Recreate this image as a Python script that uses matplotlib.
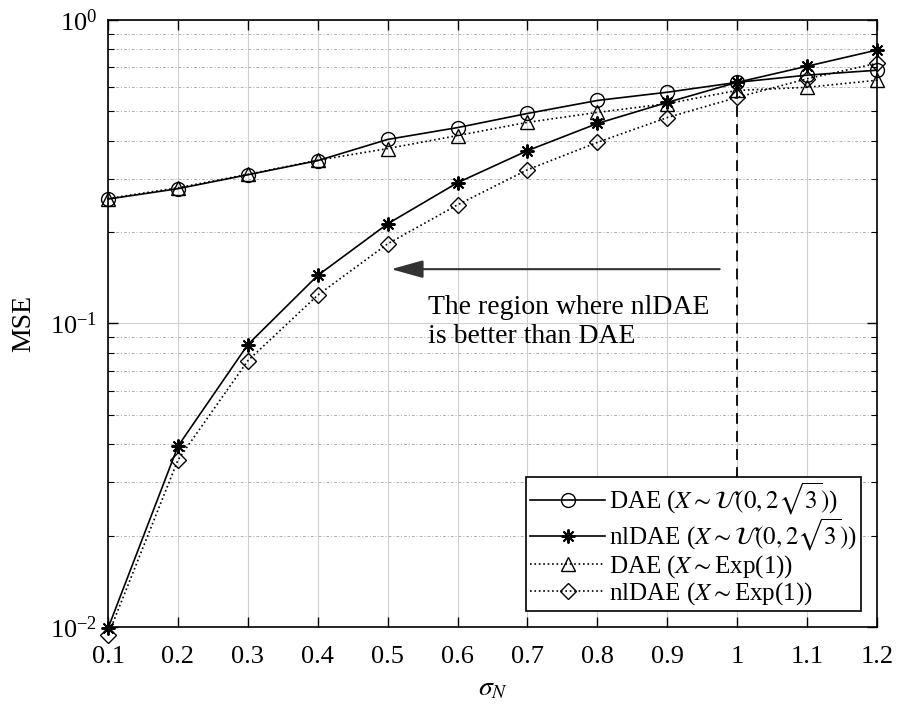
import matplotlib
matplotlib.use("Agg")
import matplotlib.pyplot as plt
from matplotlib.ticker import NullFormatter

plt.rcParams['font.family'] = ['Liberation Serif', 'DejaVu Serif']
plt.rcParams['mathtext.fontset'] = 'stix'

sigma = [0.1, 0.2, 0.3, 0.4, 0.5, 0.6, 0.7, 0.8, 0.9, 1.0, 1.1, 1.2]
dae_unif = [0.257, 0.278, 0.309, 0.344, 0.404, 0.442, 0.492, 0.543, 0.578, 0.623, 0.658, 0.683]
nldae_unif = [0.0099, 0.0394, 0.0852, 0.144, 0.213, 0.291, 0.371, 0.456, 0.535, 0.623, 0.704, 0.796]
dae_exp = [0.258, 0.280, 0.310, 0.345, 0.377, 0.416, 0.460, 0.496, 0.530, 0.586, 0.600, 0.633]
nldae_exp = [0.0094, 0.0355, 0.0754, 0.124, 0.183, 0.246, 0.321, 0.395, 0.477, 0.556, 0.640, 0.720]
xtick_labels = ['0.1', '0.2', '0.3', '0.4', '0.5', '0.6', '0.7', '0.8', '0.9', '1', '1.1', '1.2']

fig = plt.figure(figsize=(8.98, 7.08), dpi=100)
ax = fig.add_axes([0.1203, 0.1144, 0.8563, 0.8574])

ax.set_yscale('log')
ax.set_xlim(0.1, 1.2)
ax.set_ylim(1e-2, 1e0)

ax.set_xticks(sigma)
ax.set_xticklabels(xtick_labels)
ax.grid(True, which='major', axis='both', color='#d0d0d0', linestyle='-', linewidth=0.8)
ax.grid(True, which='minor', axis='y', color='#b0b0b0', linestyle=(0, (3, 2, 1, 2)), linewidth=0.7)
ax.yaxis.set_minor_formatter(NullFormatter())
ax.set_axisbelow(True)

ms = 10
ax.plot(sigma, dae_unif, color='black', linestyle='-', linewidth=1.2, marker='o',
        markersize=ms, markerfacecolor='none', markeredgecolor='black', clip_on=False,
        label=r'DAE ($X \sim \mathcal{U}(0, 2\sqrt{3})$)')
ax.plot(sigma, nldae_unif, color='black', linestyle='-', linewidth=1.2, marker=(8, 2, 0),
        markersize=ms, markeredgewidth=1.4, markeredgecolor='black', clip_on=False,
        label=r'nlDAE ($X \sim \mathcal{U}(0, 2\sqrt{3})$)')
ax.plot(sigma, dae_exp, color='black', linestyle=':', linewidth=1.2, marker='^',
        markersize=ms, markerfacecolor='none', markeredgecolor='black', clip_on=False,
        label=r'DAE ($X \sim$Exp(1))')
ax.plot(sigma, nldae_exp, color='black', linestyle=':', linewidth=1.2, marker='D',
        markersize=ms - 2, markerfacecolor='none', markeredgecolor='black', clip_on=False,
        label=r'nlDAE ($X \sim$Exp(1))')

# dashed vertical line at sigma = 1
ax.plot([1.0, 1.0], [0.031, 0.62], color='black', linestyle=(0, (6, 4)), linewidth=1.3)

# arrow
ax.annotate('', xy=(0.505, 0.151), xytext=(0.975, 0.151),
            arrowprops=dict(arrowstyle='-|>,head_length=0.9,head_width=0.25', color='#333333', lw=1.5,
                            mutation_scale=22, shrinkA=0, shrinkB=0))
ax.text(0.558, 0.124, 'The region where nlDAE\nis better than DAE', fontsize=20,
        va='top', ha='left', linespacing=1.2)

ax.tick_params(which='both', direction='in', top=True, right=True, labelsize=19)
ax.tick_params(axis='x', which='major', pad=14)
ax.tick_params(axis='y', which='major', pad=8)
ax.tick_params(which='major', length=7, width=1)
ax.tick_params(which='minor', length=4, width=0.8)
for s in ax.spines.values():
    s.set_linewidth(1.2)

ax.set_xlabel(r'$\sigma_N$', fontsize=20, labelpad=6)
ax.set_ylabel('MSE', fontsize=20, labelpad=10)

leg = ax.legend(loc='lower right', fontsize=18, frameon=True, fancybox=False,
                edgecolor='black', framealpha=1, handlelength=3.0, handletextpad=0.15,
                borderpad=0.15, labelspacing=0.0, borderaxespad=0.65)
leg.get_frame().set_linewidth(1.2)

fig.savefig('out.png', dpi=100)
